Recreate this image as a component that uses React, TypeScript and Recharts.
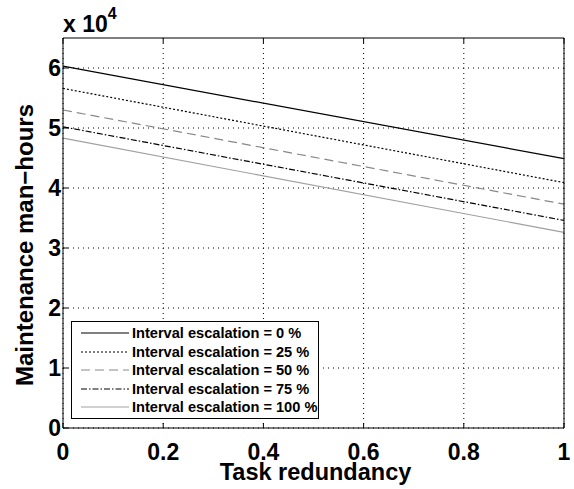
import React from "react";
import { LineChart, Line, CartesianGrid, XAxis, YAxis } from "recharts";

// task redundancy (x) and maintenance man-hours in units of 10^4
const redundancy = [0, 1];
const esc0 = [6.03, 4.49];
const esc25 = [5.66, 4.09];
const esc50 = [5.3, 3.73];
const esc75 = [5.02, 3.46];
const esc100 = [4.83, 3.26];

const xTicks = [0, 0.2, 0.4, 0.6, 0.8, 1];
const yTicks = [0, 1, 2, 3, 4, 5, 6];

const seriesNames = [
  "Interval escalation = 0 %",
  "Interval escalation = 25 %",
  "Interval escalation = 50 %",
  "Interval escalation = 75 %",
  "Interval escalation = 100 %",
];
const seriesKeys = ["e0", "e25", "e50", "e75", "e100"];
const seriesValues = [esc0, esc25, esc50, esc75, esc100];
const seriesColors = ["#000", "#000", "#888", "#000", "#a0a0a0"];
const seriesDash = ["", "2 2", "9 5", "6 2 1.5 2", ""];

const data = redundancy.map((x, i) => {
  const row: Record<string, number> = { x };
  seriesKeys.forEach((k, j) => {
    row[k] = seriesValues[j][i];
  });
  return row;
});

const FONT = "'Liberation Sans', Arial, Helvetica, sans-serif";

const tickStyle = {
  fill: "#000",
  fontSize: 23,
  fontWeight: "bold" as const,
  fontFamily: FONT,
};

const fmt = (v: number) => String(v);
const blank = () => "";

// bottom tick label, nudged down to sit like the MATLAB export
const XTick = (props: any) => {
  const { x, y, payload } = props;
  return (
    <text
      x={x}
      y={y + 5}
      dy="0.71em"
      textAnchor="middle"
      fill="#000"
      fontSize={23}
      fontWeight="bold"
      fontFamily={FONT}
    >
      {fmt(payload.value)}
    </text>
  );
};

function LegendBox() {
  return (
    <div
      style={{
        position: "absolute",
        left: 71,
        top: 321,
        width: 246,
        height: 94,
        border: "1px solid #000",
        background: "#fff",
        fontFamily: FONT,
        fontWeight: "bold",
        fontSize: 14.6,
        paddingTop: 2,
        lineHeight: "18.5px",
      }}
    >
      {seriesNames.map((name, i) => (
        <div
          key={name}
          style={{ display: "flex", alignItems: "center", height: 18.5 }}
        >
          <svg width={60} height={10} style={{ flexShrink: 0 }}>
            <line
              x1={9}
              x2={57}
              y1={5}
              y2={5}
              stroke={seriesColors[i]}
              strokeWidth={1}
              strokeDasharray={seriesDash[i] || undefined}
            />
          </svg>
          <span style={{ whiteSpace: "nowrap", color: "#000" }}>{name}</span>
        </div>
      ))}
    </div>
  );
}

export default function App() {
  return (
    <div
      style={{
        position: "absolute",
        left: 0,
        top: 0,
        width: 574,
        height: 489,
        background: "#fff",
      }}
    >
      <LineChart
        width={574}
        height={489}
        data={data}
        margin={{ top: 37, right: 9, bottom: 26, left: 23 }}
      >
        <CartesianGrid
          stroke="#000"
          strokeDasharray="1 4"
          horizontalValues={yTicks}
          verticalValues={xTicks}
        />
        <XAxis
          dataKey="x"
          type="number"
          domain={[0, 1]}
          ticks={xTicks}
          tickFormatter={fmt}
          interval={0}
          height={35}
          tickSize={-5}
          tickMargin={16}
          stroke="#000"
          tick={<XTick />}
          label={({ viewBox }: any) => (
            <text
              x={viewBox.x + viewBox.width / 2 + 2}
              y={viewBox.y + 52}
              textAnchor="middle"
              fill="#000"
              fontSize={23.5}
              fontWeight="bold"
              fontFamily={FONT}
            >
              Task redundancy
            </text>
          )}
        />
        <XAxis
          xAxisId="top"
          orientation="top"
          dataKey="x"
          type="number"
          domain={[0, 1]}
          ticks={xTicks}
          tickFormatter={blank}
          interval={0}
          height={1}
          tickSize={-5}
          stroke="#000"
        />
        <YAxis
          type="number"
          domain={[0, 6.5]}
          ticks={yTicks}
          tickFormatter={fmt}
          interval={0}
          width={40}
          tickSize={-5}
          tickMargin={7}
          stroke="#000"
          tick={tickStyle}
          label={({ viewBox }: any) => {
            const cx = viewBox.x + 1;
            const cy = 245;
            const ax = viewBox.x + viewBox.width;
            return (
              <g>
                <text
                  x={cx}
                  y={cy}
                  transform={`rotate(-90 ${cx} ${cy})`}
                  textAnchor="middle"
                  dominantBaseline="central"
                  fill="#000"
                  fontSize={24}
                  fontWeight="bold"
                  fontFamily={FONT}
                >
                  Maintenance man−hours
                </text>
                <text
                  x={ax}
                  y={viewBox.y - 6}
                  fill="#000"
                  fontSize={23}
                  fontWeight="bold"
                  fontFamily={FONT}
                >
                  x 10
                  <tspan fontSize={16} dy={-13}>
                    4
                  </tspan>
                </text>
              </g>
            );
          }}
        />
        <YAxis
          yAxisId="right"
          orientation="right"
          type="number"
          domain={[0, 6.5]}
          ticks={yTicks}
          tickFormatter={blank}
          interval={0}
          width={1}
          tickSize={-5}
          stroke="#000"
        />
        {seriesKeys.map((k, i) => (
          <Line
            key={k}
            dataKey={k}
            name={seriesNames[i]}
            type="linear"
            stroke={seriesColors[i]}
            strokeWidth={1.2}
            strokeDasharray={seriesDash[i] || undefined}
            dot={false}
            activeDot={false}
            isAnimationActive={false}
          />
        ))}
      </LineChart>
      <LegendBox />
    </div>
  );
}
